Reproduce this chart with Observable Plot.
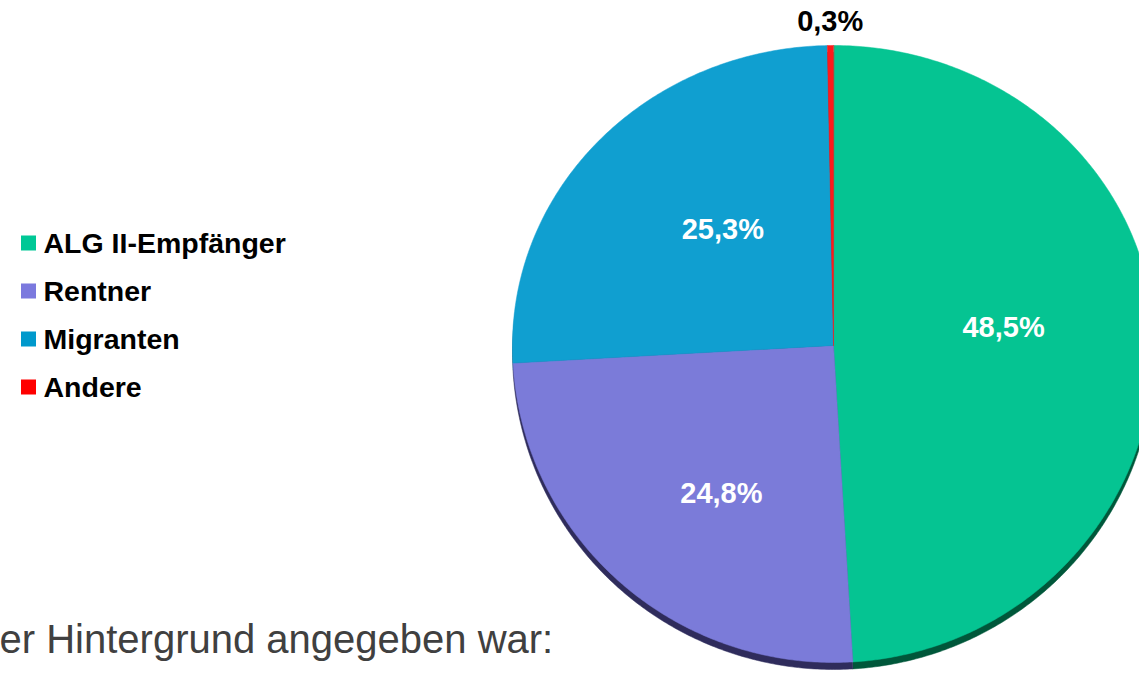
<!DOCTYPE html>
<html>
<head>
<meta charset="utf-8">
<script src="https://cdn.jsdelivr.net/npm/d3@7"></script>
<script src="https://cdn.jsdelivr.net/npm/@observablehq/plot@0.6"></script>
<style>
  html, body { margin: 0; padding: 0; background: #fff; }
  #chart { width: 1139px; height: 673px; overflow: hidden; }
</style>
</head>
<body>
<div id="chart"></div>
<script>
// ---- data ----
const categories = ["ALG II-Empfänger", "Rentner", "Migranten", "Andere"];
const values = [48.5, 24.8, 25.3, 0.3];
const labels = ["48,5%", "24,8%", "25,3%", "0,3%"];
const faceColors = ["#05c492", "#7b7bd9", "#109fd0", "#ff1a1a"];
const sideColors = ["#00573a", "#2f2c5c", "#0a4f6b", "#7a0000"];
const legendColors = ["#00c896", "#7b79de", "#0099cc", "#ff0000"];
const footnote = "er Hintergrund angegeben war:";

// ---- layout ----
const W = 1139, H = 673;
const cx = 833, cy = 345, rx = 321, ryTop = 300, ryBottom = 317, depth = 7;
// label nudges (pixels), keyed by slice index
const labelNudge = [[0, -13], [1, 23], [14, -8], [0, 0]];

const pie = d3.pie().sort(null).value(d => d.value)
  (categories.map((c, i) => ({c, i, value: values[i]})));

function project(a, r) {
  const ux = Math.sin(a) * r, uy = -Math.cos(a) * r;
  return [cx + ux * rx, cy + uy * (uy < 0 ? ryTop : ryBottom)];
}

const face = [], side = [];
pie.forEach(p => {
  const pts = [[cx, cy]];
  const n = Math.max(2, Math.ceil((p.endAngle - p.startAngle) / 0.01));
  for (let k = 0; k <= n; k++) {
    const a = p.startAngle + (p.endAngle - p.startAngle) * k / n;
    pts.push(project(a, 1));
  }
  pts.forEach(([x, y]) => {
    face.push({key: p.data.c, x, y, color: faceColors[p.data.i]});
    side.push({key: p.data.c, x, y: y + depth, color: sideColors[p.data.i]});
  });
});

const inLabels = pie.filter(p => p.data.value >= 1).map(p => {
  const mid = (p.startAngle + p.endAngle) / 2;
  const [x, y] = project(mid, 0.53);
  const [nx, ny] = labelNudge[p.data.i];
  return {x: x + nx, y: y + ny, text: labels[p.data.i]};
});
const outLabels = pie.filter(p => p.data.value < 1).map(p => {
  const mid = (p.startAngle + p.endAngle) / 2;
  const [x, y] = project(mid, 1.08);
  return {x, y, text: labels[p.data.i]};
});

const legend = categories.map((c, i) => ({c, i, color: legendColors[i]}));
const legX = 21, legY0 = 243, legStep = 48, sq = 15;

const chart = Plot.plot({
  width: W, height: H,
  margin: 0,
  x: {domain: [0, W], range: [0, W], axis: null},
  y: {domain: [0, H], range: [0, H], axis: null},
  color: {type: "identity"},
  style: {background: "#fff"},
  marks: [
    Plot.line(side, {x: "x", y: "y", z: "key", fill: "color", stroke: "color", strokeWidth: 0.5, curve: "linear-closed"}),
    Plot.line(face, {x: "x", y: "y", z: "key", fill: "color", stroke: "color", strokeWidth: 0.5, curve: "linear-closed"}),
    Plot.text(inLabels, {x: "x", y: "y", text: "text", fill: "#fff", fontSize: 29, fontWeight: "bold", fontFamily: "Liberation Sans, Arial, sans-serif"}),
    Plot.text(outLabels, {x: "x", y: "y", text: "text", fill: "#000", fontSize: 29, fontWeight: "bold", fontFamily: "Liberation Sans, Arial, sans-serif"}),
    Plot.rect(legend, {x1: () => legX, x2: () => legX + sq, y1: d => legY0 + d.i * legStep - sq / 2, y2: d => legY0 + d.i * legStep + sq / 2, fill: "color"}),
    Plot.text(legend, {x: () => legX + sq + 7, y: d => legY0 + d.i * legStep, text: "c", textAnchor: "start", fill: "#000", fontSize: 28.5, fontWeight: "bold", fontFamily: "Liberation Sans, Arial, sans-serif"}),
    Plot.text([footnote], {x: () => -1, y: () => 640, text: d => d, textAnchor: "start", fill: "#404040", fontSize: 40, fontFamily: "Liberation Sans, Arial, sans-serif"})
  ]
});
document.getElementById("chart").appendChild(chart);
</script>
</body>
</html>
